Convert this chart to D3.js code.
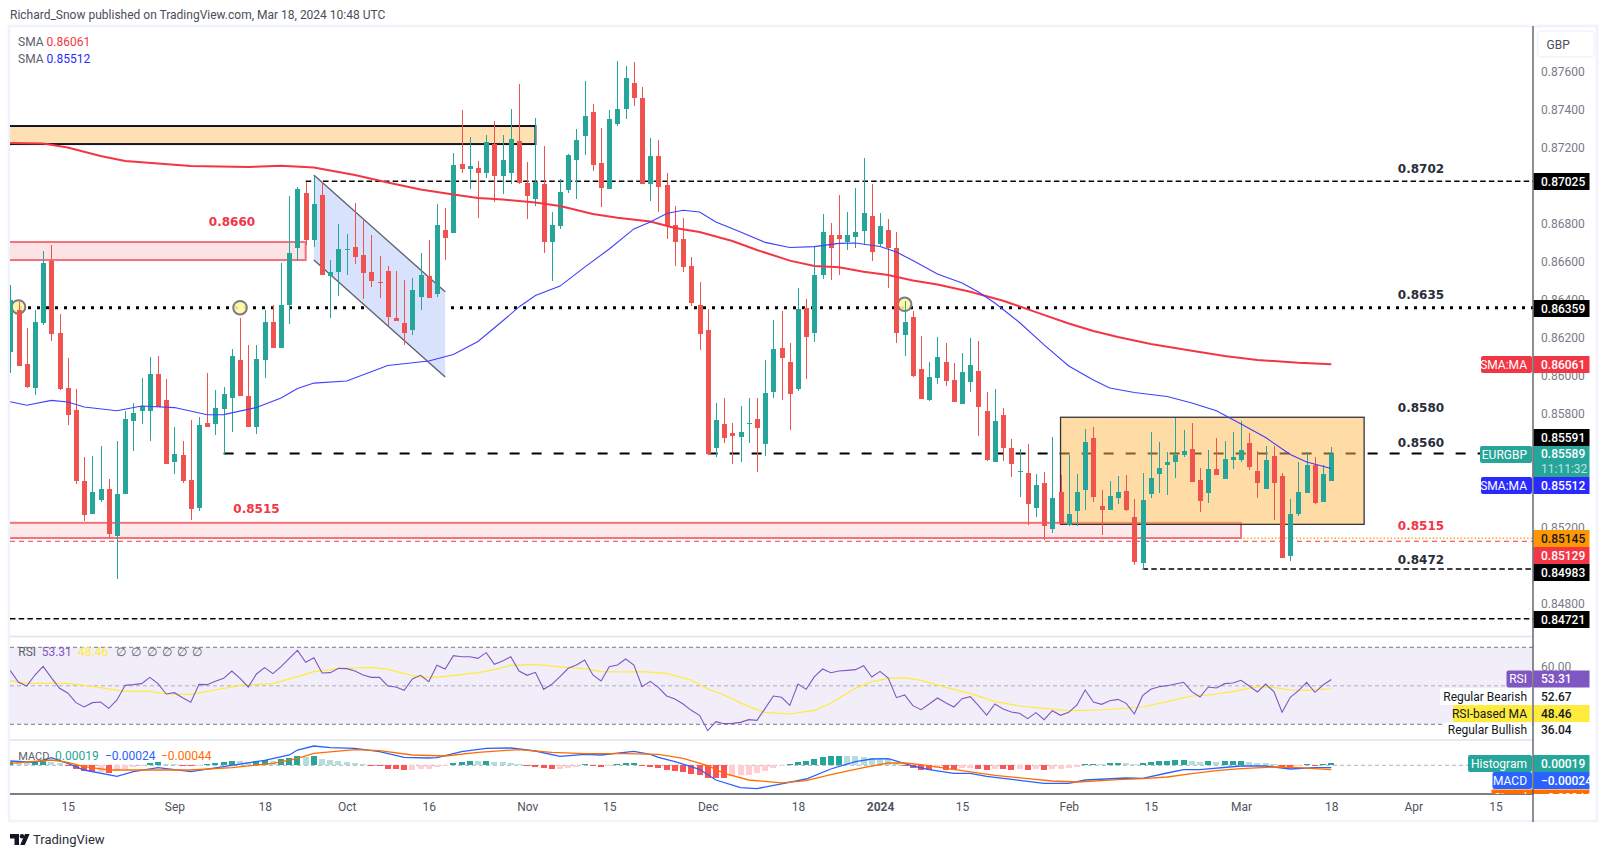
<!DOCTYPE html>
<html>

<head>
<meta charset="utf-8">
<script src="https://d3js.org/d3.v7.min.js"></script>
<style>
  html, body { margin: 0; padding: 0; background: #fff; }
  svg { display: block; }
  text { font-family: Roboto, "Liberation Sans", sans-serif; }
</style>
</head>

<body>
  <script>
    // EURGBP daily, prices in points (1e-5). Bar 0 = 4 Aug 2023, bar 161 = 18 Mar 2024
    var opens = [86126,86347,86062,85936,86278,86605,86226,85936,85820,85446,
      85272,85346,85404,85156,85378,85762,85815,85815,86010,85873,
      85546,85583,85451,85304,85752,85746,85825,85883,86084,85894,
      85731,86084,86284,86147,86373,86674,86963,86716,86953,86526,
      86547,86663,86679,86637,86547,86494,86552,86305,86278,86242,
      86415,86526,86431,86768,86753,87116,87090,87095,87069,87221,
      87053,87069,87237,87016,86932,87011,86705,86789,86979,87137,
      87264,87390,87121,86984,87327,87406,87543,87464,87011,87158,
      87005,86795,86721,86579,86373,86242,85620,85746,85699,85678,
      85746,85773,85641,85915,86147,86073,85931,86357,86226,86531,
      86742,86742,86705,86731,86763,86842,86695,86768,86674,86215,
      86310,86036,85873,85989,86073,85978,85852,85968,86026,85815,
      85546,85794,85620,85493,85488,85304,85436,85193,85388,85214,
      85288,85399,85673,85314,85293,85357,85393,85256,85014,85378,
      85483,85530,85546,85583,85615,85451,85383,85509,85457,85557,
      85557,85646,85499,85404,85578,85472,85051,85272,85383,85530,
      85335,85446];
    var highs = [86479,86389,86252,86347,86658,86689,86326,86094,85931,85573,
      85578,85630,85457,85657,85815,85857,85989,86099,86105,85983,
      85731,85657,85767,85783,86015,85925,85941,86141,86305,86163,
      86163,86347,86373,86595,86947,86995,87021,87058,87021,86610,
      86800,86747,86911,86826,86742,86631,86579,86552,86505,86516,
      86647,86716,86905,86884,87174,87401,87258,87132,87269,87343,
      87269,87406,87537,87127,87358,87211,86863,87037,87169,87300,
      87553,87432,87306,87401,87659,87632,87653,87522,87253,87242,
      87069,86895,86832,86626,86494,86352,85857,85883,85752,85841,
      85883,85883,86084,86294,86342,86173,86463,86405,86684,86853,
      86805,86953,86863,86990,87148,87011,86858,86826,86758,86394,
      86342,86210,86073,86205,86173,86068,86120,86199,86184,85915,
      85931,85831,85667,85615,85641,85483,85493,85678,85478,85583,
      85483,85720,85731,85399,85446,85472,85478,85351,85488,85704,
      85652,85599,85778,85715,85752,85515,85609,85673,85657,85704,
      85762,85699,85604,85630,85630,85488,85351,85546,85599,85573,
      85530,85625];
    var lows = [86015,86052,85936,85899,86268,86184,85925,85741,85430,85235,
      85272,85335,85146,84930,85378,85604,85746,85657,85836,85536,
      85483,85436,85241,85288,85731,85688,85583,85704,85894,85731,
      85694,85989,86147,86147,86273,86605,86689,86679,86531,86305,
      86421,86531,86589,86405,86468,86410,86263,86289,86163,86215,
      86347,86410,86415,86610,86753,87069,86984,86832,87042,86916,
      86958,87011,87011,86826,86895,86647,86500,86774,86963,86932,
      87163,87079,86890,86984,87316,87353,87422,87011,86921,86863,
      86721,86579,86547,86368,86136,85588,85573,85646,85536,85546,
      85646,85493,85578,85883,85873,85715,85920,85983,86178,86510,
      86505,86531,86663,86674,86689,86605,86684,86463,86173,86105,
      85994,85878,85868,85957,85947,85862,85852,85915,85683,85551,
      85546,85551,85467,85362,85214,85256,85135,85172,85220,85209,
      85209,85293,85335,85162,85293,85325,85288,85004,84977,85357,
      85383,85372,85462,85573,85441,85283,85330,85478,85457,85509,
      85546,85504,85357,85404,85241,85040,85025,85262,85383,85325,
      85335,85446];
    var closes = [86400,86052,85941,86284,86595,86220,85931,85794,85446,85267,
      85388,85404,85167,85378,85773,85804,85841,86010,85836,85536,
      85588,85446,85299,85741,85731,85831,85904,86105,85894,85731,
      86089,86284,86147,86373,86647,86984,86716,86905,86531,86547,
      86668,86668,86626,86542,86500,86489,86310,86289,86226,86452,
      86531,86410,86795,86726,87111,87090,87106,87069,87232,87053,
      87137,87248,87016,86947,87021,86705,86795,86969,87163,87242,
      87369,87111,86990,87353,87406,87569,87464,87011,87158,86995,
      86789,86705,86573,86384,86220,85588,85767,85673,85683,85704,
      85752,85725,85910,86141,86094,85904,86352,86205,86531,86758,
      86674,86721,86742,86758,86858,86652,86789,86674,86226,86284,
      85999,85878,85994,86099,85973,85862,86020,86057,85836,85557,
      85762,85620,85536,85499,85325,85425,85209,85357,85220,85272,
      85388,85652,85362,85293,85367,85388,85293,85019,85346,85462,
      85515,85546,85583,85604,85441,85341,85509,85478,85562,85573,
      85609,85520,85436,85557,85436,85040,85272,85388,85530,85330,
      85483,85589];

    // moving averages, read at selected bars
    var sma200Bars = [0,4,7,11,14,18,22,29,33,37,42,46,50,54,57,60,64,67,71,74,78,81,84,88,91,95,98,101,104,107,110,113,117,121,125,129,132,135,139,144,148,152,157,161];
    var sma200Vals = [87227,87224,87203,87158,87132,87119,87106,87100,87107,87097,87058,87019,86982,86955,86937,86929,86913,86895,86853,86833,86813,86779,86758,86710,86663,86607,86579,86572,86549,86531,86502,86481,86443,86396,86336,86276,86236,86205,86168,86132,86105,86084,86069,86061];
    var sma50Bars = [0,2,5,7,9,13,16,20,24,26,30,33,35,37,41,46,51,54,57,60,62,64,67,70,73,76,78,80,82,84,86,89,92,95,98,101,103,106,108,110,113,116,118,120,123,126,129,132,134,137,141,144,147,150,153,156,158,161];
    var sma50Vals = [85864,85845,85871,85862,85836,85816,85841,85833,85795,85796,85833,85883,85933,85962,85973,86055,86078,86112,86181,86289,86363,86423,86473,86573,86668,86774,86811,86855,86872,86863,86811,86758,86703,86676,86681,86698,86700,86681,86652,86608,86537,86489,86442,86384,86281,86163,86052,85978,85936,85912,85891,85857,85816,85746,85675,85586,85546,85512];

    var rsi = [57.86,51.80,49.90,55.61,60.11,54.23,48.68,46.26,41.24,38.99,
      41.24,41.58,38.29,42.62,50.24,50.59,51.11,54.40,51.11,45.74,
      46.43,43.84,41.41,50.76,50.59,52.32,53.88,57.69,53.88,49.38,
      56.13,59.42,56.30,59.94,64.27,68.42,62.19,64.62,56.65,56.82,
      59.07,58.90,57.69,55.61,54.40,54.40,49.90,49.38,47.65,53.53,
      55.44,52.15,60.63,58.73,65.65,65.13,65.13,64.27,67.21,61.15,
      62.88,65.13,57.69,55.44,57.00,48.16,50.76,54.74,59.07,60.81,
      63.40,55.61,52.49,59.94,60.81,63.92,60.81,49.55,52.32,49.03,
      44.70,43.14,40.55,37.26,34.66,26.69,31.37,30.33,30.50,31.02,
      32.41,32.06,38.29,44.70,44.01,39.85,50.94,48.16,54.74,58.73,
      56.82,57.69,58.03,58.38,60.46,54.57,57.52,54.05,43.84,45.22,
      39.68,37.60,40.55,43.66,41.24,38.99,43.32,44.36,39.68,34.83,
      40.55,37.95,36.39,35.70,32.93,36.04,32.41,37.08,34.66,36.22,
      40.03,47.82,41.58,40.37,42.28,42.97,40.89,35.35,44.87,48.16,
      49.55,50.07,50.94,51.80,46.95,44.18,49.38,48.86,51.11,51.45,
      52.84,49.90,46.78,50.94,46.95,36.22,44.01,47.47,51.80,46.61,
      50.42,53.31];
    var rsiMaBars = [0,2,7,10,14,17,19,22,25,28,32,35,37,40,44,46,49,51,53,57,59,61,64,68,70,72,75,77,80,83,85,87,90,92,95,98,100,103,105,107,109,111,114,117,120,123,126,129,133,138,141,144,146,149,152,154,156,158,161];
    var rsiMaVals = [52.67,51.28,51.28,49.72,47.13,47.13,45.74,45.57,47.82,50.24,51.11,54.74,57.34,58.90,59.59,58.55,55.27,54.23,54.92,56.82,58.38,60.63,61.15,59.42,58.90,57.34,57.17,57.34,56.48,53.01,48.34,45.22,39.16,36.22,35.35,37.26,40.89,48.68,52.15,53.88,54.23,52.84,49.20,46.09,41.76,39.51,38.29,37.08,37.43,38.99,41.76,44.70,45.22,46.95,49.55,49.03,47.82,47.65,48.46];

    var hist = [37,30,30,43,44,33,23,-3,-37,-57,
      -68,-63,-77,-57,-37,-17,-7,23,33,13,
      10,-7,-10,-3,13,23,33,43,40,30,
      43,50,48,67,73,93,87,90,63,53,
      43,33,23,13,-7,-10,-37,-38,-47,-45,
      -37,-36,-20,-10,23,33,43,40,43,33,
      30,27,10,-3,-13,-27,-37,-33,-23,-13,
      10,-3,-13,-7,13,20,21,-3,-13,-23,
      -47,-57,-67,-87,-97,-127,-128,-130,-110,-100,
      -93,-77,-53,-27,-3,17,33,47,67,83,
      93,97,93,90,80,73,67,60,23,-3,
      -27,-47,-48,-27,-43,-44,-27,-26,-37,-47,
      -37,-40,-43,-37,-47,-37,-47,-37,-33,-27,
      -20,13,17,10,23,27,23,13,23,33,
      43,47,53,57,43,37,40,37,40,43,
      47,33,23,20,17,-17,-20,-7,13,-7,
      13,19];
    var macdBars = [0,3,5,7,9,13,15,18,22,26,31,34,35,37,39,42,45,48,51,52,55,58,61,64,67,70,72,76,78,79,81,84,86,89,91,94,97,100,103,105,107,110,112,115,117,119,123,126,129,131,136,138,141,143,145,150,153,156,159,161];
    var macdVals = [43,30,77,20,-47,-110,-63,-23,-63,-13,50,103,153,193,176,170,137,80,73,77,137,170,173,143,90,110,103,140,110,80,37,-40,-147,-223,-233,-186,-137,-37,37,63,67,-7,-43,-80,-80,-110,-150,-180,-180,-147,-127,-130,-77,-43,-43,-7,-7,-37,-23,-24];
    var signalBars = [0,5,7,9,12,16,22,27,32,35,37,42,45,49,53,57,62,66,70,75,79,82,85,87,90,94,97,100,104,107,109,111,116,120,124,127,130,135,138,141,144,147,150,154,157,161];
    var signalVals = [20,53,30,-13,-47,-47,-47,-23,20,70,120,157,147,103,93,130,157,130,117,117,110,70,-3,-80,-147,-176,-153,-93,-23,23,23,7,-53,-100,-133,-157,-167,-143,-133,-117,-83,-53,-33,-17,-23,-44];

    var priceTicks = [0.876,0.874,0.872,0.868,0.866,0.864,0.862,0.86,0.858,0.852,0.848];
    var tickBars = [7,20,31,41,51,63,73,85,96,106,116,129,139,150,161,171,181];
    var tickLabels = ["15","Sep","18","Oct","16","Nov","15","Dec","18","2024","15","Feb","15","Mar","18","Apr","15"];

    var width = 1609, height = 857;
    var left = 10, axisX = 1533, plotTop = 27, mainBottom = 636, macdBottom = 794;

    var teal = "#26a69a", red = "#ef5350", tagRed = "#f23645", smaBlue = "#2a2aff",
      ink = "#131722", grey = "#787b86", purple = "#7e57c2",
      yellow = "#ffeb3b", macdBlue = "#2962ff", macdOrange = "#ff6d00";

    var x = d3.scaleLinear().domain([0, 161]).range([10.3, 1331.3]);
    var y = d3.scaleLinear().domain([0.876, 0.848]).range([72.1, 603.7]);
    var yRsi = d3.scaleLinear().domain([70, 30]).range([647.3, 724.3]);
    var yMacd = d3.scaleLinear().domain([0.003, -0.003]).range([735.3, 795.3]);
    var pt = function(v) { return v / 1e5; };

    var svg = d3.select("body").append("svg")
      .attr("width", width)
      .attr("height", height)
      .style("background", "#fff");

    var defs = svg.append("defs");
    defs.append("clipPath").attr("id", "mainClip").append("rect")
      .attr("x", left).attr("y", plotTop).attr("width", axisX - left).attr("height", mainBottom - plotTop);
    defs.append("clipPath").attr("id", "lowClip").append("rect")
      .attr("x", left).attr("y", mainBottom).attr("width", width - left).attr("height", macdBottom - mainBottom);

    // frame
    svg.append("rect").attr("x", 9).attr("y", 26).attr("width", 1588).attr("height", 795)
      .attr("fill", "none").attr("stroke", "#f0f3fa").attr("stroke-width", 2.5);
    svg.append("text").attr("x", 10).attr("y", 15).attr("dy", ".35em")
      .attr("font-size", 12).attr("fill", "#4a4e59")
      .text("Richard_Snow published on TradingView.com, Mar 18, 2024 10:48 UTC");

    var main = svg.append("g").attr("clip-path", "url(#mainClip)");

    function hline(price, x0, opts) {
      main.append("line")
        .attr("x1", x0).attr("x2", axisX)
        .attr("y1", y(price)).attr("y2", y(price))
        .attr("stroke", opts.color || "#000")
        .attr("stroke-width", opts.w)
        .attr("stroke-dasharray", opts.dash);
    }
    function zone(bar0, bar1, p0, p1, fill, stroke, w) {
      main.append("rect")
        .attr("x", bar0 === null ? left - 5 : x(bar0))
        .attr("width", x(bar1) - (bar0 === null ? left - 5 : x(bar0)))
        .attr("y", y(p0)).attr("height", y(p1) - y(p0))
        .attr("fill", fill).attr("stroke", stroke).attr("stroke-width", w);
    }

    // levels and zones, all under the candles
    hline(0.87025, x(36), {w: 1.5, dash: "5.5,3.2"});
    hline(0.86359, left, {w: 3, dash: "3,6"});
    hline(0.85591, x(26), {w: 2.2, dash: "10,12"});
    hline(0.85145, x(33), {w: 1.2, color: "#ff9800", dash: "1.5,2"});
    hline(0.85129, left, {w: 1.2, color: tagRed, dash: "5,4"});
    hline(0.84983, x(138), {w: 1.5, dash: "5.5,3.2"});
    hline(0.84721, left, {w: 1.5, dash: "5.5,3.2"});

    zone(null, 64, pt(87316), pt(87221), "#ffe0b2", "#131722", 2);
    zone(null, 36, pt(86705), pt(86610), "#fce4e6", "#f2717c", 2);
    zone(null, 150, pt(85226), pt(85146), "#fde8ea", "#f2717c", 2);

    // channel
    var channelBars = [37, 53];
    var channelTop = [87058, 86443];
    var channelLow = [86610, 85994];
    var chArea = d3.area()
      .x(function(d) { return x(d); })
      .y0(function(d, i) { return y(pt(channelTop[i])); })
      .y1(function(d, i) { return y(pt(channelLow[i])); });
    var chLine = function(vals) {
      return d3.line().x(function(d) { return x(d); }).y(function(d, i) { return y(pt(vals[i])); })(channelBars);
    };
    main.append("path").attr("d", chArea(channelBars)).attr("fill", "#d8e2fc");
    main.append("path").attr("d", chLine(channelTop)).attr("fill", "none").attr("stroke", "#5d606b").attr("stroke-width", 1.3);
    main.append("path").attr("d", chLine(channelLow)).attr("fill", "none").attr("stroke", "#5d606b").attr("stroke-width", 1.3);

    // range box
    zone(128, 165, pt(85782), pt(85218), "rgba(255,183,77,0.5)", "#35353b", 1.3);

    // touch markers
    var touchBars = [1, 28, 109];
    var touchPrices = [86363, 86359, 86377];
    main.selectAll("circle.touch")
      .data(touchBars)
      .enter().append("circle")
      .attr("class", "touch")
      .attr("cx", function(d) { return x(d); })
      .attr("cy", function(d, i) { return y(pt(touchPrices[i])); })
      .attr("r", 6.8)
      .attr("fill", "#fff59d")
      .attr("fill-opacity", 0.9)
      .attr("stroke", "#787b86")
      .attr("stroke-width", 2);

    // candles
    var candles = main.selectAll("g.candle")
      .data(d3.range(opens.length))
      .enter().append("g")
      .attr("class", "candle")
      .attr("fill", function(i) { return closes[i] >= opens[i] ? teal : red; })
      .attr("shape-rendering", "crispEdges");
    candles.append("rect")
      .attr("x", function(i) { return Math.round(x(i)) - 0.5; })
      .attr("width", 1)
      .attr("y", function(i) { return y(pt(highs[i])); })
      .attr("height", function(i) { return y(pt(lows[i])) - y(pt(highs[i])); });
    candles.append("rect")
      .attr("x", function(i) { return Math.round(x(i)) - 2.5; })
      .attr("width", 5)
      .attr("y", function(i) { return y(pt(Math.max(opens[i], closes[i]))); })
      .attr("height", function(i) { return Math.max(1, Math.abs(y(pt(opens[i])) - y(pt(closes[i])))); });

    function knotLine(bars, vals, scale, conv) {
      return d3.line()
        .x(function(d) { return x(d); })
        .y(function(d, i) { return scale(conv(vals[i])); })(bars);
    }
    main.append("path").attr("d", knotLine(sma200Bars, sma200Vals, y, pt))
      .attr("fill", "none").attr("stroke", tagRed).attr("stroke-width", 2);
    main.append("path").attr("d", knotLine(sma50Bars, sma50Vals, y, pt))
      .attr("fill", "none").attr("stroke", "#3f3fff").attr("stroke-width", 1.1);

    // level labels
    var levelText = [
      ["0.8660", 232, 222, tagRed],
      ["0.8515", 256.5, 509, tagRed],
      ["0.8702", 1421, 169, "#2a2e39"],
      ["0.8635", 1421, 295, "#2a2e39"],
      ["0.8580", 1421, 408, "#2a2e39"],
      ["0.8560", 1421, 443, "#2a2e39"],
      ["0.8515", 1421, 526, tagRed],
      ["0.8472", 1421, 560, "#2a2e39"]
    ];
    svg.selectAll("text.level")
      .data(levelText)
      .enter().append("text")
      .attr("class", "level")
      .attr("x", function(d) { return d[1]; })
      .attr("y", function(d) { return d[2]; })
      .attr("dy", ".36em")
      .attr("text-anchor", "middle")
      .attr("fill", function(d) { return d[3]; })
      .attr("font-size", 12)
      .attr("font-weight", "bold")
      .style("font-family", "'DejaVu Sans'")
      .text(function(d) { return d[0]; });

    // legend, main pane
    function label(xp, yp, str, color, size) {
      return svg.append("text").attr("x", xp).attr("y", yp).attr("dy", ".35em")
        .attr("font-size", size || 12).attr("fill", color).text(str);
    }
    label(18, 42, "SMA", "#5d606b");
    label(46.5, 42, "0.86061", tagRed);
    label(18, 59, "SMA", "#5d606b");
    label(46.5, 59, "0.85512", smaBlue);

    // separators
    [636.5, 740].forEach(function(yp) {
      svg.append("line").attr("x1", left).attr("x2", axisX).attr("y1", yp).attr("y2", yp)
        .attr("stroke", "#e0e3eb").attr("stroke-width", 1.5);
    });

    // RSI pane
    var low = svg.append("g").attr("clip-path", "url(#lowClip)");
    low.append("rect").attr("x", left).attr("width", axisX - left)
      .attr("y", yRsi(70)).attr("height", yRsi(30) - yRsi(70))
      .attr("fill", purple).attr("fill-opacity", 0.1);
    [[70, 1], [50, 0.55], [30, 1]].forEach(function(d) {
      low.append("line").attr("x1", left).attr("x2", axisX)
        .attr("y1", yRsi(d[0])).attr("y2", yRsi(d[0]))
        .attr("stroke", grey).attr("stroke-opacity", d[1]).attr("stroke-dasharray", "4,3");
    });
    low.append("path").attr("d", knotLine(rsiMaBars, rsiMaVals, yRsi, Number))
      .attr("fill", "none").attr("stroke", yellow).attr("stroke-width", 1.2);
    low.append("path").attr("d", d3.line().x(function(d, i) { return x(i); }).y(function(d) { return yRsi(d); })(rsi))
      .attr("fill", "none").attr("stroke", purple).attr("stroke-width", 1.1);

    label(18.3, 652, "RSI", "#5d606b");
    label(41.7, 652, "53.31", purple);
    label(78, 652, "48.46", yellow);
    [116, 131, 146.5, 161.5, 176.5, 191.5].forEach(function(xp) {
      label(xp, 652, "∅", "#5d606b");
    });

    // MACD pane
    low.append("line").attr("x1", left).attr("x2", axisX)
      .attr("y1", yMacd(0)).attr("y2", yMacd(0))
      .attr("stroke", grey).attr("stroke-opacity", 0.6).attr("stroke-dasharray", "4,3");
    low.selectAll("rect.hist")
      .data(hist)
      .enter().append("rect")
      .attr("class", "hist")
      .attr("x", function(d, i) { return Math.round(x(i)) - 3; })
      .attr("width", 6)
      .attr("y", function(d) { return d >= 0 ? yMacd(pt(d)) : yMacd(0); })
      .attr("height", function(d) { return Math.abs(yMacd(pt(d)) - yMacd(0)); })
      .attr("shape-rendering", "crispEdges")
      .attr("fill", function(d, i) {
        var prev = i ? hist[i - 1] : d - 1;
        if (d >= 0) return d > prev ? teal : "#b2dfdb";
        return d > prev ? "#ffcdd2" : "#ff5252";
      });
    low.append("path").attr("d", knotLine(macdBars, macdVals, yMacd, pt))
      .attr("fill", "none").attr("stroke", macdBlue).attr("stroke-width", 1.3);
    low.append("path").attr("d", knotLine(signalBars, signalVals, yMacd, pt))
      .attr("fill", "none").attr("stroke", macdOrange).attr("stroke-width", 1.3);

    label(18.3, 756, "MACD", "#5d606b", 11);
    label(55, 756, "0.00019", teal);
    label(105, 756, "−0.00024", macdBlue);
    label(161, 756, "−0.00044", macdOrange);

    // axes
    var priceAxis = svg.append("g")
      .attr("transform", "translate(" + axisX + ",0)")
      .call(d3.axisRight(y).tickValues(priceTicks).tickSize(0).tickPadding(8)
        .tickFormat(d3.format(".5f")));
    var rsiAxis = svg.append("g")
      .attr("transform", "translate(" + axisX + ",0)")
      .call(d3.axisRight(yRsi).tickValues([60]).tickSize(0).tickPadding(8)
        .tickFormat(d3.format(".2f")));
    var timeAxis = svg.append("g")
      .attr("transform", "translate(0," + macdBottom + ")")
      .call(d3.axisBottom(x).tickValues(tickBars).tickSize(0).tickPadding(8)
        .tickFormat(function(d, i) { return tickLabels[i]; }));
    [priceAxis, rsiAxis].forEach(function(g) {
      g.select(".domain").remove();
      g.selectAll("text").style("font-family", "Roboto").attr("font-size", 12).attr("fill", grey);
    });
    timeAxis.select(".domain").remove();
    timeAxis.selectAll("text")
      .style("font-family", "Roboto")
      .attr("font-size", 12)
      .attr("fill", "#50535e")
      .attr("font-weight", function(d, i) { return tickLabels[i] === "2024" ? "bold" : null; });

    svg.append("line").attr("x1", left).attr("x2", axisX).attr("y1", macdBottom).attr("y2", macdBottom)
      .attr("stroke", "#50535e").attr("stroke-width", 1.3);

    // currency button
    svg.append("rect").attr("x", 1537.5).attr("y", 31).attr("width", 57).attr("height", 26).attr("rx", 4)
      .attr("fill", "#fff").attr("stroke", "#f0f3fa").attr("stroke-width", 1.5);
    label(1546.5, 45, "GBP", "#4a4e59");

    // tags on the price scale
    var tags = svg.append("g");
    function valueBox(yc, h, fill, str, color, ty) {
      tags.append("rect").attr("x", axisX + 0.5).attr("width", 56).attr("y", yc - h / 2).attr("height", h).attr("fill", fill);
      tags.append("text").attr("x", 1541).attr("y", ty || yc).attr("dy", ".35em")
        .attr("font-size", 12).attr("font-weight", 500).attr("fill", color).text(str);
    }
    function nameTag(x0, yc, h, fill, str, color) {
      tags.append("rect").attr("x", x0).attr("width", axisX - 1 - x0).attr("y", yc - h / 2).attr("height", h)
        .attr("rx", 2).attr("fill", fill);
      tags.append("text").attr("x", 1527).attr("y", yc).attr("dy", ".35em").attr("text-anchor", "end")
        .attr("font-size", 12).attr("fill", color).text(str);
    }

    valueBox(181.5, 17, "#000", "0.87025", "#fff");
    valueBox(308.5, 17, "#000", "0.86359", "#fff");
    valueBox(364.5, 17, tagRed, "0.86061", "#fff");
    nameTag(1481, 364.5, 17, tagRed, "SMA:MA", "#fff");
    valueBox(437.5, 17, "#000", "0.85591", "#fff");
    valueBox(461.5, 31, teal, "0.85589", "#fff", 454);
    tags.append("text").attr("x", 1541).attr("y", 469).attr("dy", ".35em")
      .attr("font-size", 12).attr("fill", "#fff").attr("fill-opacity", 0.7).text("11:11:32");
    nameTag(1480, 454.5, 17, teal, "EURGBP", "#fff");
    valueBox(485.5, 17, smaBlue, "0.85512", "#fff");
    nameTag(1481, 485.5, 17, smaBlue, "SMA:MA", "#fff");
    valueBox(538.5, 17, "#ff9800", "0.85145", "#131722");
    valueBox(555.5, 17, tagRed, "0.85129", "#fff");
    valueBox(572.5, 17, "#000", "0.84983", "#fff");
    valueBox(619.5, 17, "#000", "0.84721", "#fff");

    valueBox(679, 17, purple, "53.31", "#fff");
    nameTag(1506.5, 679, 17, purple, "RSI", "#fff");
    valueBox(696.5, 17, "#fff", "52.67", "#131722");
    nameTag(1440, 696.5, 17, "#fff", "Regular Bearish", "#131722");
    valueBox(713.5, 17, yellow, "48.46", "#131722");
    nameTag(1453, 713.5, 17, yellow, "RSI-based MA", "#131722");
    valueBox(730, 15, "#fff", "36.04", "#131722");
    nameTag(1444, 730, 15, "#fff", "Regular Bullish", "#131722");

    valueBox(763.5, 17, teal, "0.00019", "#fff");
    nameTag(1468, 763.5, 17, teal, "Histogram", "#fff");
    valueBox(780.5, 17, macdBlue, "−0.00024", "#fff");
    nameTag(1492.5, 780.5, 17, macdBlue, "MACD", "#fff");
    defs.append("clipPath").attr("id", "sigClip").append("rect")
      .attr("x", 1400).attr("y", 785).attr("width", 209).attr("height", 9);
    var sig = svg.append("g").attr("clip-path", "url(#sigClip)");
    sig.append("rect").attr("x", 1491.5).attr("width", 98).attr("y", 789.5).attr("height", 17).attr("fill", macdOrange);
    sig.append("text").attr("x", 1527).attr("y", 798).attr("dy", ".35em").attr("text-anchor", "end")
      .attr("font-size", 12).attr("fill", "#fff").text("Signal");
    sig.append("text").attr("x", 1541).attr("y", 798).attr("dy", ".35em")
      .attr("font-size", 12).attr("fill", "#fff").text("−0.00044");
    svg.append("line").attr("x1", axisX).attr("x2", axisX).attr("y1", 26).attr("y2", 822)
      .attr("stroke", "#50535e").attr("stroke-width", 1.3);

    // footer mark
    svg.append("path").attr("d", "M10 834h9v11h-4.5v-6.6H10z").attr("fill", ink);
    svg.append("circle").attr("cx", 22).attr("cy", 836.3).attr("r", 2.2).attr("fill", ink);
    svg.append("path").attr("d", "M25 834h4.6l-4.8 11h-4.6z").attr("fill", ink);
    label(33, 839, "TradingView", "#2a2e39", 13);
  </script>
</body>

</html>
